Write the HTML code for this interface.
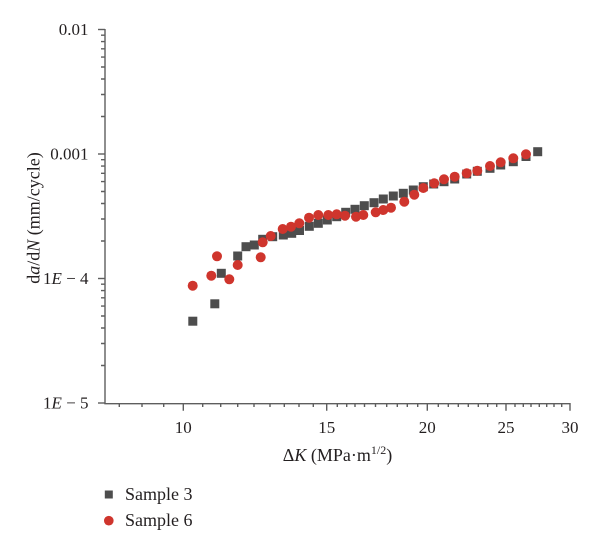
<!DOCTYPE html>
<html>
<head>
<meta charset="utf-8">
<style>
html,body{margin:0;padding:0;background:#fff;}
svg{display:block;}
text{font-family:"Liberation Serif",serif;fill:#231f20;}
</style>
</head>
<body>
<svg width="600" height="552" viewBox="0 0 600 552" xmlns="http://www.w3.org/2000/svg">
<g stroke="#5e5e5e" stroke-width="1.4" fill="none">
  <line x1="105" y1="29" x2="105" y2="403.7"/>
  <line x1="104.3" y1="403.7" x2="570.5" y2="403.7"/>
  <line x1="98" y1="29.5" x2="105" y2="29.5"/>
  <line x1="98" y1="154" x2="105" y2="154"/>
  <line x1="98" y1="278.5" x2="105" y2="278.5"/>
  <line x1="98" y1="403" x2="105" y2="403"/>
  <path d="M101 35.2H105M101 41.6H105M101 48.8H105M101 57.1H105M101 67H105M101 79H105M101 94.5H105M101 116.5H105
           M101 159.7H105M101 166.1H105M101 173.3H105M101 181.6H105M101 191.5H105M101 203.5H105M101 219H105M101 241H105
           M101 284.2H105M101 290.6H105M101 297.8H105M101 306.1H105M101 316H105M101 328H105M101 343.5H105M101 365.5H105"/>
  <path d="M183.3 403.7V410.7M326.7 403.7V410.7M427.3 403.7V410.7M506 403.7V410.7M570 403V410.7"/>
  <path d="M119.3 403.7V407M142 403.7V407M163.7 403.7V407
           M202.7 403.7V407M220.7 403.7V407M237.7 403.7V407M254 403.7V407M270 403.7V407M284.3 403.7V407M299 403.7V407M313.3 403.7V407
           M337.3 403.7V407M346.7 403.7V407M355 403.7V407M364.5 403.7V407M375.5 403.7V407M386.7 403.7V407M397.3 403.7V407M407.3 403.7V407M417.7 403.7V407
           M438.3 403.7V407M448.3 403.7V407M458.3 403.7V407M468.3 403.7V407M478.3 403.7V407M487.7 403.7V407M496.7 403.7V407
           M515 403.7V407M523.3 403.7V407M531 403.7V407M539.3 403.7V407M546.7 403.7V407M554 403.7V407M561.7 403.7V407"/>
</g>
<g font-size="17" text-anchor="end">
  <text x="88.5" y="35">0.01</text>
  <text x="88.5" y="159.5">0.001</text>
  <text x="88.5" y="284">1<tspan font-style="italic">E</tspan> − 4</text>
  <text x="88.5" y="408.5">1<tspan font-style="italic">E</tspan> − 5</text>
</g>
<g font-size="17" text-anchor="middle">
  <text x="183.3" y="433">10</text>
  <text x="326.7" y="433">15</text>
  <text x="427.3" y="433">20</text>
  <text x="506" y="433">25</text>
  <text x="570" y="433">30</text>
</g>
<text x="337.5" y="461" font-size="18" text-anchor="middle">Δ<tspan font-style="italic">K</tspan> (MPa·m<tspan font-size="12" dy="-7">1/2</tspan><tspan dy="7">)</tspan></text>
<text transform="translate(39.5,218) rotate(-90)" font-size="18" text-anchor="middle">d<tspan font-style="italic">a</tspan>/d<tspan font-style="italic">N</tspan> (mm/cycle)</text>
<g fill="#4d4d4d">
<rect x="188.3" y="316.7" width="9" height="9"/>
<rect x="210.3" y="299.3" width="9" height="9"/>
<rect x="216.8" y="268.8" width="9" height="9"/>
<rect x="233.2" y="251.5" width="9" height="9"/>
<rect x="241.5" y="242.2" width="9" height="9"/>
<rect x="249.8" y="240.5" width="9" height="9"/>
<rect x="258.2" y="234.8" width="9" height="9"/>
<rect x="268.2" y="232.2" width="9" height="9"/>
<rect x="278.8" y="230.5" width="9" height="9"/>
<rect x="287.2" y="228.8" width="9" height="9"/>
<rect x="295" y="226" width="9" height="9"/>
<rect x="304.8" y="221.8" width="9" height="9"/>
<rect x="313.8" y="218.8" width="9" height="9"/>
<rect x="322.8" y="215.5" width="9" height="9"/>
<rect x="332.2" y="212.2" width="9" height="9"/>
<rect x="341.2" y="207.8" width="9" height="9"/>
<rect x="350.5" y="204.8" width="9" height="9"/>
<rect x="359.8" y="201.2" width="9" height="9"/>
<rect x="369.5" y="198.2" width="9" height="9"/>
<rect x="378.8" y="194.5" width="9" height="9"/>
<rect x="388.8" y="191.5" width="9" height="9"/>
<rect x="398.8" y="188.8" width="9" height="9"/>
<rect x="408.8" y="185.5" width="9" height="9"/>
<rect x="418.8" y="182.2" width="9" height="9"/>
<rect x="429.2" y="179.5" width="9" height="9"/>
<rect x="439.5" y="177.2" width="9" height="9"/>
<rect x="450.2" y="174.5" width="9" height="9"/>
<rect x="462.2" y="169.5" width="9" height="9"/>
<rect x="472.8" y="166.8" width="9" height="9"/>
<rect x="485.5" y="163.8" width="9" height="9"/>
<rect x="496.2" y="160.5" width="9" height="9"/>
<rect x="508.8" y="157.2" width="9" height="9"/>
<rect x="521.5" y="152" width="9" height="9"/>
<rect x="533.2" y="147.2" width="9" height="9"/>
</g>
<g fill="#cf352d">
<circle cx="192.7" cy="285.7" r="5"/>
<circle cx="211.3" cy="275.7" r="5"/>
<circle cx="217" cy="256.3" r="5"/>
<circle cx="229.3" cy="279.3" r="5"/>
<circle cx="237.7" cy="265" r="5"/>
<circle cx="260.7" cy="257.3" r="5"/>
<circle cx="262.7" cy="242.3" r="5"/>
<circle cx="270.7" cy="236" r="5"/>
<circle cx="282.7" cy="229" r="5"/>
<circle cx="291" cy="226.7" r="5"/>
<circle cx="299.3" cy="223.3" r="5"/>
<circle cx="309" cy="217.7" r="5"/>
<circle cx="318.3" cy="215" r="5"/>
<circle cx="328.3" cy="215" r="5"/>
<circle cx="336.7" cy="214.3" r="5"/>
<circle cx="345" cy="215.7" r="5"/>
<circle cx="356" cy="216.7" r="5"/>
<circle cx="363.3" cy="215" r="5"/>
<circle cx="375.7" cy="212.3" r="5"/>
<circle cx="383.3" cy="210" r="5"/>
<circle cx="391" cy="207.7" r="5"/>
<circle cx="404.3" cy="201.7" r="5"/>
<circle cx="414.3" cy="194.7" r="5"/>
<circle cx="423.3" cy="188" r="5"/>
<circle cx="434.2" cy="183.3" r="5"/>
<circle cx="444" cy="179.3" r="5"/>
<circle cx="454.7" cy="176.7" r="5"/>
<circle cx="466.7" cy="173.3" r="5"/>
<circle cx="477.3" cy="170.7" r="5"/>
<circle cx="490" cy="166" r="5"/>
<circle cx="500.7" cy="162.3" r="5"/>
<circle cx="513.3" cy="158.3" r="5"/>
<circle cx="526" cy="154.3" r="5"/>
</g>
<rect x="104.8" y="490.5" width="8" height="8" fill="#4d4d4d"/>
<text x="125" y="500" font-size="18">Sample 3</text>
<circle cx="108.8" cy="520.7" r="4.8" fill="#cf352d"/>
<text x="125" y="526" font-size="18">Sample 6</text>
</svg>
</body>
</html>
